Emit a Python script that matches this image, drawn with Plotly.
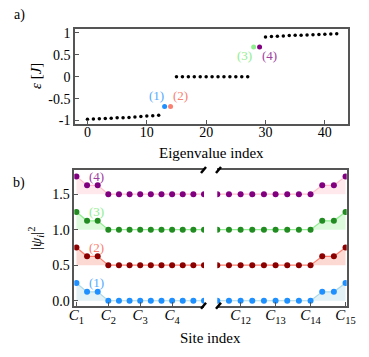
import plotly.graph_objects as go

# ---------------- data ----------------
eig_index = list(range(43))
eig_lower = [-0.97, -0.965, -0.96, -0.955, -0.95, -0.94, -0.935, -0.93, -0.92, -0.91, -0.90, -0.89, -0.88]
eig_edge_low = [-0.68, -0.68]
eig_zero = [0.0] * 13
eig_edge_high = [0.68, 0.68]
eig_upper = [0.91, 0.92, 0.925, 0.93, 0.94, 0.945, 0.95, 0.955, 0.96, 0.965, 0.97, 0.975, 0.98]
eig_all = eig_lower + eig_edge_low + eig_zero + eig_edge_high + eig_upper

state_labels = ["(1)", "(2)", "(3)", "(4)"]
state_eig_index = [13, 14, 28, 29]

site_index = list(range(43))
psi2 = [0.25, 0.125, 0.125] + [0.0] * 37 + [0.125, 0.125, 0.25]
offsets = [0.0, 0.5, 1.0, 1.5]

site_tick_vals_left = [0, 3, 6, 9]
site_tick_text_left = ["<i>C</i><sub>1</sub>", "<i>C</i><sub>2</sub>", "<i>C</i><sub>3</sub>", "<i>C</i><sub>4</sub>"]
site_tick_vals_right = [33, 36, 39, 42]
site_tick_text_right = ["<i>C</i><sub>12</sub>", "<i>C</i><sub>13</sub>", "<i>C</i><sub>14</sub>", "<i>C</i><sub>15</sub>"]

# ---------------- styles ----------------
dot_colors = ["#1e90ff", "#8b0000", "#228b22", "#800080"]
line_colors = ["#add8e6", "#fa8072", "#90ee90", "#ffc0cb"]
fill_colors = ["rgba(173,216,230,0.35)", "rgba(250,128,114,0.3)", "rgba(144,238,144,0.3)", "rgba(255,192,203,0.35)"]
eig_label_colors = ["#55aaff", "#fa8072", "#90ee90", "#a040a0"]
state_pt_colors = ["#1e90ff", "#fa8072", "#90ee90", "#800080"]

FONT = "Liberation Serif"
AX = "#555555"
W, H = 369, 357

fig = go.Figure()

# panel a
band_idx = [i for i in eig_index if i not in state_eig_index]
fig.add_trace(go.Scatter(x=band_idx, y=[eig_all[i] for i in band_idx], mode="markers",
                         marker=dict(color="black", size=3.5), xaxis="x", yaxis="y", showlegend=False))
fig.add_trace(go.Scatter(x=state_eig_index, y=[eig_all[i] for i in state_eig_index], mode="markers",
                         marker=dict(color=state_pt_colors, size=5), xaxis="x", yaxis="y", showlegend=False))

# panel b
left_sites = [i for i in site_index if i <= 13]
right_sites = [i for i in site_index if i >= 30]
for k, off in enumerate(offsets):
    for xs, xa, ya in [(left_sites, "x2", "y2"), (right_sites, "x3", "y3")]:
        fig.add_trace(go.Scatter(x=xs, y=[off] * len(xs), mode="lines", line=dict(width=0),
                                 xaxis=xa, yaxis=ya, showlegend=False, hoverinfo="skip"))
        fig.add_trace(go.Scatter(x=xs, y=[psi2[i] + off for i in xs], mode="lines+markers",
                                 line=dict(color=line_colors[k], width=1.2),
                                 marker=dict(color=dot_colors[k], size=6),
                                 fill="tonexty", fillcolor=fill_colors[k],
                                 xaxis=xa, yaxis=ya, showlegend=False))

ax_common = dict(showline=True, linecolor=AX, linewidth=1.5, ticks="inside", ticklen=4,
                 tickcolor=AX, tickwidth=1.2, showgrid=False, zeroline=False, automargin=False)
tf14 = dict(family=FONT, size=14, color="black")
tf15 = dict(family=FONT, size=15, color="black")

fig.update_layout(
    width=W, height=H, margin=dict(l=0, r=0, t=0, b=0),
    plot_bgcolor="white", paper_bgcolor="white",
    font=dict(family=FONT, size=14, color="black"),
    xaxis=dict(domain=[75 / W, 348 / W], range=[-2.1, 43.9], tickvals=[0, 10, 20, 30, 40],
               mirror=True, anchor="y", tickfont=tf14, ticklabelstandoff=-6, **ax_common),
    yaxis=dict(domain=[1 - 124 / H, 1 - 29 / H], range=[-1.08, 1.09],
               tickvals=[-1, -0.5, 0, 0.5, 1], ticktext=["-1", "-0.5", "0", "0.5", "1"],
               mirror=True, anchor="x", tickfont=tf14, **ax_common),
    xaxis2=dict(domain=[74.3 / W, 204 / W], range=[-0.2, 12], tickvals=site_tick_vals_left,
                ticktext=site_tick_text_left, mirror=True, anchor="y2", tickfont=tf15,
                ticklabelstandoff=-5, **ax_common),
    yaxis2=dict(domain=[1 - 305.7 / H, 1 - 170 / H], range=[-0.07, 1.84],
                tickvals=[0, 0.5, 1.0, 1.5], ticktext=["0.0", "0.5", "1.0", "1.5"],
                anchor="x2", tickfont=tf14, **ax_common),
    xaxis3=dict(domain=[217.3 / W, 346.7 / W], range=[31, 42.1], tickvals=site_tick_vals_right,
                ticktext=site_tick_text_right, mirror=True, anchor="y3", tickfont=tf15,
                ticklabelstandoff=-5, **ax_common),
    yaxis3=dict(domain=[1 - 305.7 / H, 1 - 170 / H], range=[-0.07, 1.84], anchor="x3",
                side="right", showline=True, linecolor=AX, linewidth=1.5, showticklabels=False,
                ticks="", showgrid=False, zeroline=False),
)

ann = []
eig_lab_pos = [(11.7, -0.43), (15.7, -0.43), (26.5, 0.48), (30.6, 0.48)]
for k, (lx, ly) in enumerate(eig_lab_pos):
    ann.append(dict(x=lx, y=ly, xref="x", yref="y", text=state_labels[k], showarrow=False,
                    font=dict(family=FONT, size=13, color=eig_label_colors[k])))
for k, off in enumerate(offsets):
    ann.append(dict(x=1.85, y=off + 0.25, xref="x2", yref="y2", text=state_labels[k], showarrow=False,
                    font=dict(family=FONT, size=13, color=eig_label_colors[k])))


def pa(x, y, text, size=15, angle=0):
    return dict(x=x / W, y=1 - y / H, xref="paper", yref="paper", text=text, showarrow=False,
                xanchor="center", yanchor="middle", textangle=angle, font=dict(family=FONT, size=size))


ann += [
    pa(211, 153, "Eigenvalue index"),
    pa(210, 338, "Site index"),
    pa(36, 76, "<i>ε</i> [<i>J</i>]", angle=-90),
    pa(36, 238, "|<i>ψ</i><sub><i>i</i></sub>|<sup>2</sup>", angle=-90),
    pa(19, 15, "a)", size=14),
    pa(19, 183, "b)", size=14),
]
fig.update_layout(annotations=ann)

# axis-break slashes (decoration)
shapes = []
for cx in [203.5, 218.5]:
    for cy in [170, 305.7]:
        shapes.append(dict(type="line", xref="paper", yref="paper",
                           x0=(cx - 2.5) / W, y0=1 - (cy + 3) / H, x1=(cx + 2.5) / W, y1=1 - (cy - 3) / H,
                           line=dict(color="black", width=2.5)))
fig.update_layout(shapes=shapes)

fig.write_html("out.html", config={"displayModeBar": False},
               post_script="document.body.style.margin='0';document.body.style.overflow='hidden';")
